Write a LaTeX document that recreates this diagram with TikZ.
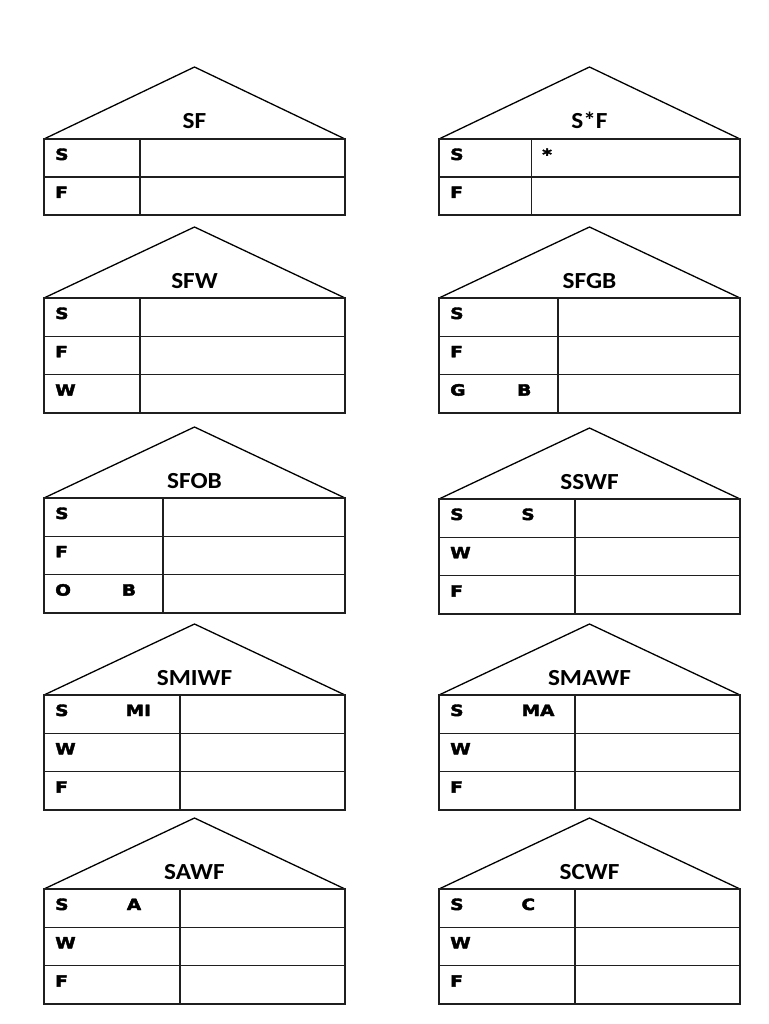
\documentclass[tikz,border=0pt]{standalone}
\usepackage{fontspec}
\newfontfamily\ttlfont{Carlito}[FakeStretch=1.1]
\newfontfamily\labfont{DejaVu Sans}[FakeStretch=1.2, BoldFeatures={FakeBold=2.5}]
\tikzset{
  roof/.style={line width=1.3pt, draw=black, line join=miter},
  grid/.style={line width=1.6pt, draw=black!88},
  ttl/.style={font=\ttlfont\bfseries\fontsize{23}{23}\selectfont, anchor=base, inner sep=0pt},
  lab/.style={font=\labfont\bfseries\fontsize{15.5}{15.5}\selectfont, anchor=base west, inner sep=0pt},
  labc/.style={lab, anchor=base},
}
% #1 L, #2 R, #3 apex y, #4 top y, #5 divider x, #6 inner line ys, #7 bottom y
\newcommand\hut[7]{%
  \draw[roof] (#1,#4) -- ({(#1+#2)/2},#3) -- (#2,#4);
  \draw[grid] (#1,#4) rectangle (#2,#7);
  \draw[grid] (#5,#4) -- (#5,#7);
  \foreach \yy in {#6} {\draw[grid] (#1,\yy) -- (#2,\yy);}
}
\begin{document}
\begin{tikzpicture}[x=1pt,y=-1pt]
\fill[white] (0,0) rectangle (768,1024);
\useasboundingbox (0,0) rectangle (768,1024);

% 1 SF
\hut{44}{345}{67}{139}{140}{177}{215}
\node[ttl] (t1) at (194.5,129) {SF};
\node[lab] (a1) at (55,160) {S};
\node[lab] (b1) at (55,198) {F};

% 2 S*F
\hut{439}{740}{67}{139}{531.5}{177}{215}
\node[ttl] (t2) at (589.5,129) {S*F};
\node[lab] (a2) at (450,160) {S};
\node[lab] (s2) at (542,160) {*};
\node[lab] (b2) at (450,198) {F};

% 3 SFW
\hut{44}{345}{227}{298}{140}{336.3,374.6}{413}
\node[ttl] (t3) at (194.5,288) {SFW};
\node[lab] (a3) at (55,319) {S};
\node[lab] (b3) at (55,357.3) {F};
\node[lab] (c3) at (55,395.6) {W};

% 4 SFGB
\hut{439}{740}{227}{298}{558}{336.3,374.6}{413}
\node[ttl] (t4) at (589.5,288) {SFGB};
\node[lab] (a4) at (450,319) {S};
\node[lab] (b4) at (450,357.3) {F};
\node[lab] (c4) at (450,395.6) {G};
\node[labc] (d4) at (524.3,395.6) {B};

% 5 SFOB
\hut{44}{345}{427}{498}{163}{536.3,574.6}{613}
\node[ttl] (t5) at (194.5,488) {SFOB};
\node[lab] (a5) at (55,519) {S};
\node[lab] (b5) at (55,557.3) {F};
\node[lab] (c5) at (55,595.6) {O};
\node[labc] (d5) at (129,595.6) {B};

% 6 SSWF
\hut{439}{740}{428}{499}{575}{537.3,575.6}{614}
\node[ttl] (t6) at (589.5,489) {SSWF};
\node[lab] (a6) at (450,520) {S};
\node[labc] (d6) at (528,520) {S};
\node[lab] (b6) at (450,558.3) {W};
\node[lab] (c6) at (450,596.6) {F};

% 7 SMIWF
\hut{44}{345}{624}{695}{180}{733.3,771.6}{810}
\node[ttl] (t7) at (194.5,685) {SMIWF};
\node[lab] (a7) at (55,716) {S};
\node[labc] (d7) at (138.3,716) {MI};
\node[lab] (b7) at (55,754.3) {W};
\node[lab] (c7) at (55,792.6) {F};

% 8 SMAWF
\hut{439}{740}{624}{695}{575}{733.3,771.6}{810}
\node[ttl] (t8) at (589.5,685) {SMAWF};
\node[lab] (a8) at (450,716) {S};
\node[labc] (d8) at (538,716) {MA};
\node[lab] (b8) at (450,754.3) {W};
\node[lab] (c8) at (450,792.6) {F};

% 9 SAWF
\hut{44}{345}{818}{889}{180}{927.3,965.6}{1004}
\node[ttl] (t9) at (194.5,879) {SAWF};
\node[lab] (a9) at (55,910) {S};
\node[labc] (d9) at (134,910) {A};
\node[lab] (b9) at (55,948.3) {W};
\node[lab] (c9) at (55,986.6) {F};

% 10 SCWF
\hut{439}{740}{818}{889}{575}{927.3,965.6}{1004}
\node[ttl] (t10) at (589.5,879) {SCWF};
\node[lab] (a10) at (450,910) {S};
\node[labc] (d10) at (528.3,910) {C};
\node[lab] (b10) at (450,948.3) {W};
\node[lab] (c10) at (450,986.6) {F};
\end{tikzpicture}
\end{document}
